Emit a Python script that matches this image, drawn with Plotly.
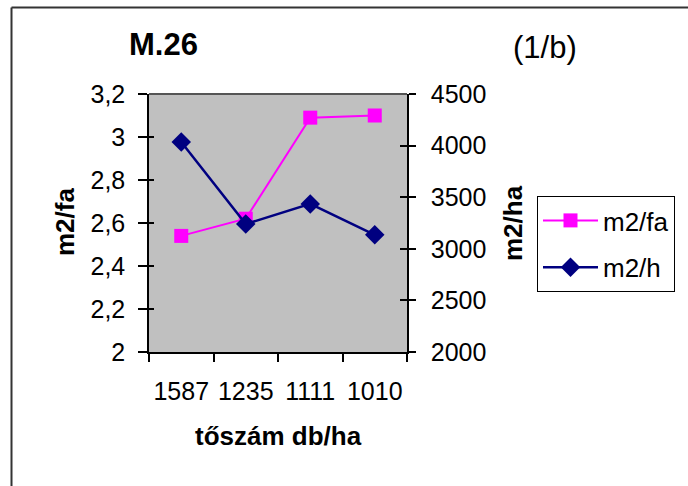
import plotly.graph_objects as go

categories = ["1587", "1235", "1111", "1010"]
m2_fa = [2.54, 2.62, 3.09, 3.10]
m2_h = [4035, 3240, 3435, 3135]
left_ticks = [2, 2.2, 2.4, 2.6, 2.8, 3, 3.2]
right_ticks = [2000, 2500, 3000, 3500, 4000, 4500]

W, H = 688, 486
PL, PR, PT, PB = 149, 407, 94, 352  # plot area in pixels
FONT = "Liberation Sans, Arial, sans-serif"


def px(x):
    return x / W


def py(y):
    return 1 - y / H


fig = go.Figure()
fig.add_trace(go.Scatter(
    x=categories, y=m2_fa, name="m2/fa", mode="lines+markers",
    line=dict(color="#FF00FF", width=2),
    marker=dict(symbol="square", size=14, color="#FF00FF"),
    yaxis="y", legendgroup="a",
))
fig.add_trace(go.Scatter(
    x=categories, y=m2_h, name="m2/h", mode="lines+markers",
    line=dict(color="#000080", width=2.5),
    marker=dict(symbol="diamond", size=15, color="#000080"),
    yaxis="y2", legendgroup="b",
))

tickfont = dict(family=FONT, size=25, color="black")
fig.update_layout(
    width=W, height=H,
    margin=dict(l=0, r=0, t=0, b=0, autoexpand=False),
    paper_bgcolor="white",
    plot_bgcolor="#C0C0C0",
    separators=", ",
    showlegend=True,
    xaxis=dict(
        domain=[px(PL), px(PR)], type="category", range=[-0.5, 3.5],
        showgrid=False, showline=True, linecolor="black", linewidth=1.5,
        ticks="outside", ticklen=8, tickcolor="black", tickwidth=1.5,
        tickson="boundaries", tickfont=tickfont, ticklabelstandoff=16,
        tickangle=0, automargin=False, zeroline=False,
    ),
    yaxis=dict(
        domain=[py(PB), py(PT)], range=[2, 3.2], tickvals=left_ticks,
        showgrid=False, showline=True, linecolor="black", linewidth=1.5,
        ticks="outside", ticklen=9, tickcolor="black", tickwidth=1.5,
        tickfont=tickfont, ticklabelstandoff=8, zeroline=False,
        automargin=False,
    ),
    yaxis2=dict(
        overlaying="y", side="right", anchor="x", range=[2000, 4500],
        tickvals=right_ticks,
        showgrid=False, showline=True, linecolor="black", linewidth=1.5,
        ticks="outside", ticklen=7, tickcolor="black", tickwidth=1.5,
        tickfont=tickfont, ticklabelstandoff=10, zeroline=False,
        automargin=False,
    ),
    yaxis3=dict(
        overlaying="y", side="left", anchor="x", range=[2, 3.2],
        tickvals=left_ticks, showticklabels=False, showgrid=False,
        showline=False, ticks="inside", ticklen=5, tickcolor="black",
        tickwidth=1.5, zeroline=False, automargin=False,
    ),
    yaxis4=dict(
        overlaying="y", side="right", anchor="x", range=[2000, 4500],
        tickvals=right_ticks, showticklabels=False, showgrid=False,
        showline=False, ticks="inside", ticklen=7, tickcolor="black",
        tickwidth=1.5, zeroline=False, automargin=False,
    ),
    legend=dict(
        x=px(537), y=py(196), xanchor="left", yanchor="top",
        bgcolor="white", bordercolor="black", borderwidth=1,
        font=dict(family=FONT, size=26, color="black"),
        traceorder="grouped", tracegroupgap=10, itemwidth=55,
    ),
)

# invisible traces to activate overlay tick axes
fig.add_trace(go.Scatter(x=categories, y=[None] * 4, yaxis="y3",
                         showlegend=False, hoverinfo="skip"))
fig.add_trace(go.Scatter(x=categories, y=[None] * 4, yaxis="y4",
                         showlegend=False, hoverinfo="skip"))

# plot area frame (top edge)
fig.add_shape(type="line", xref="paper", yref="paper",
              x0=px(PL), x1=px(PR), y0=py(PT), y1=py(PT),
              line=dict(color="#555555", width=2))
# outer chart border (left and top visible)
fig.add_shape(type="line", xref="paper", yref="paper",
              x0=px(11.5), y0=py(7.5), x1=px(11.5), y1=py(490),
              line=dict(color="#333333", width=2))
fig.add_shape(type="line", xref="paper", yref="paper",
              x0=px(11.5), y0=py(7.5), x1=px(690), y1=py(7.5),
              line=dict(color="#333333", width=2))

bold = dict(family=FONT, size=26, color="black")
fig.add_annotation(text="<b>M.26</b>", x=px(163), y=py(45), xref="paper", yref="paper",
                   showarrow=False, xanchor="center", yanchor="middle",
                   font=dict(family=FONT, size=31, color="black"))
fig.add_annotation(text="(1/b)", x=px(545), y=py(47), xref="paper", yref="paper",
                   showarrow=False, xanchor="center", yanchor="middle",
                   font=dict(family=FONT, size=31, color="black"))
fig.add_annotation(text="<b>tőszám db/ha</b>", x=px(278), y=py(436), xref="paper", yref="paper",
                   showarrow=False, xanchor="center", yanchor="middle", font=bold)
fig.add_annotation(text="<b>m2/fa</b>", x=px(65), y=py(222), xref="paper", yref="paper",
                   showarrow=False, xanchor="center", yanchor="middle", textangle=-90, font=bold)
fig.add_annotation(text="<b>m2/ha</b>", x=px(513), y=py(223), xref="paper", yref="paper",
                   showarrow=False, xanchor="center", yanchor="middle", textangle=-90, font=bold)

fig.write_html("out.html")
